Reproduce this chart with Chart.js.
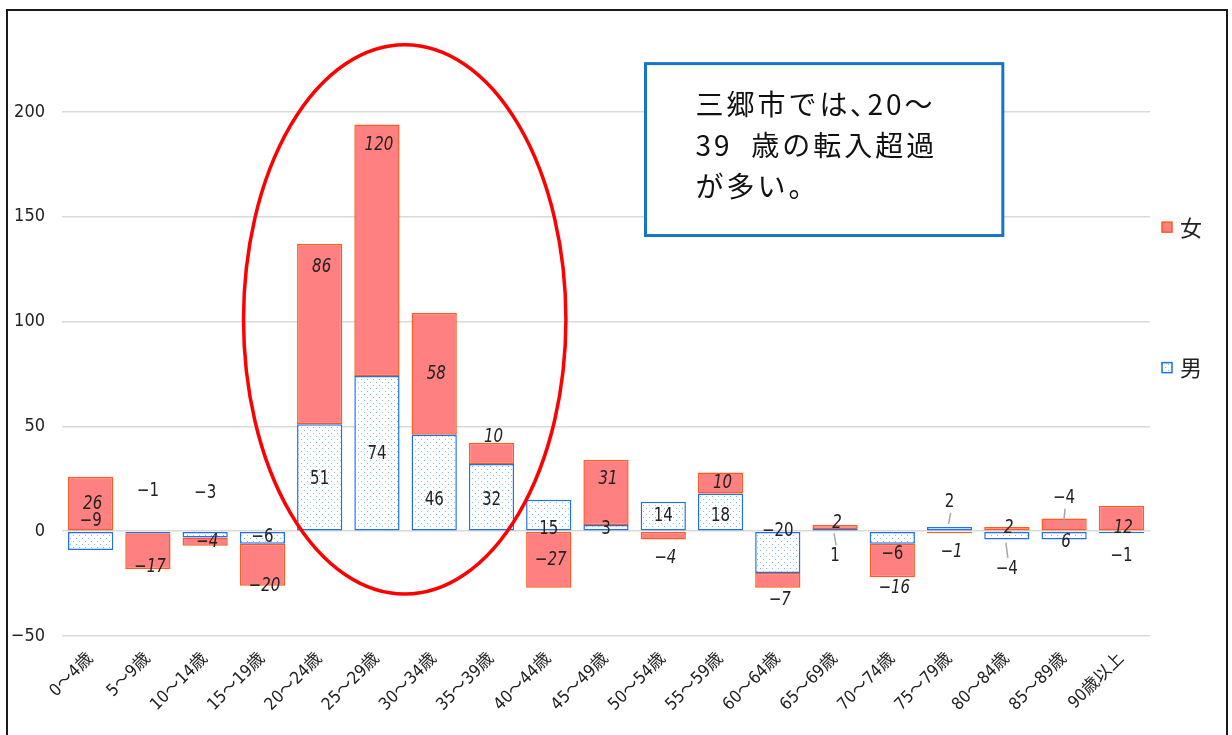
<!DOCTYPE html>
<html lang="ja">
<head>
    <meta charset="UTF-8">
    <title>三郷市 年齢別 転入超過数</title>
    <script src="https://cdn.jsdelivr.net/npm/chart.js"></script>
    <style>
        body {
            margin: 0;
            background: #ffffff;
        }
        #wrap {
            width: 1232px;
            height: 735px;
        }
    </style>
</head>
<body>
    <div id="wrap"><canvas id="chart" width="1232" height="735"></canvas></div>

    <script>
        // age groups (x axis)
        var ageGroups = ['0～4歳', '5～9歳', '10～14歳', '15～19歳', '20～24歳', '25～29歳', '30～34歳',
            '35～39歳', '40～44歳', '45～49歳', '50～54歳', '55～59歳', '60～64歳', '65～69歳',
            '70～74歳', '75～79歳', '80～84歳', '85～89歳', '90歳以上'];

        // net in-migration by sex
        var male = [-9, -1, -3, -6, 51, 74, 46, 32, 15, 3, 14, 18, -20, 1, -6, 2, -4, -4, -1];
        var female = [26, -17, -4, -20, 86, 120, 58, 10, -27, 31, -4, 10, -7, 2, -16, -1, 2, 6, 12];

        // y axis ticks
        var yTicks = [-50, 0, 50, 100, 150, 200];

        // where each data label sits (in axis units)
        var maleLabelAt = [5, 19, 18, -3, 25, 37, 15, 15, 1, 1, 7, 7, 0, -12, -11, 14, -18, 16, -12];
        var femaleLabelAt = [13, -17, -5, -26, 126, 184, 75, 45, -14, 25, -13, 23, -33, 4, -27, -10, 1.5, -5, 1.5];
        var leaderIdx = [13, 15, 16, 17];

        var noteLines = ['三郷市では､20～', '39  歳の転入超過', 'が多い。'];

        var numFont = "'DejaVu Sans Condensed', 'Liberation Sans Narrow', 'Noto Sans CJK JP', sans-serif";
        var jpFont = "'Noto Sans CJK JP', sans-serif";

        // dotted fill for 男
        function dotPattern() {
            var c = document.createElement('canvas');
            c.width = 6;
            c.height = 6;
            var g = c.getContext('2d');
            g.fillStyle = '#ffffff';
            g.fillRect(0, 0, 6, 6);
            g.fillStyle = '#74c2f2';
            g.fillRect(1, 1, 1, 1);
            g.fillRect(4, 4, 1, 1);
            return g.createPattern(c, 'repeat');
        }

        var ctx = document.getElementById('chart').getContext('2d');
        var malePattern = dotPattern();

        function fmt(v) {
            return String(v).replace('-', '−');
        }

        // narrow text, like the original's condensed font
        function narrowText(c, t, x, y) {
            c.save();
            c.translate(x, y);
            c.scale(0.88, 1);
            c.fillText(t, 0, 0);
            c.restore();
        }

        // value labels, ellipse, note box, legend and frame
        var extras = {
            id: 'extras',
            afterDatasetsDraw: function (chart) {
                var c = chart.ctx;
                var xs = chart.scales.x, ys = chart.scales.y;
                var mMeta = chart.getDatasetMeta(0);

                // leader lines
                c.save();
                c.strokeStyle = '#a6a6a6';
                c.lineWidth = 1.5;
                leaderIdx.forEach(function (i) {
                    var x = xs.getPixelForValue(i);
                    var ly = ys.getPixelForValue(maleLabelAt[i]);
                    var bar = mMeta.data[i];
                    var up = ly < bar.y;
                    var edge = up ? Math.min(bar.y, bar.base) : Math.max(bar.y, bar.base);
                    c.beginPath();
                    c.moveTo(x + 1, up ? ly + 11 : ly - 11);
                    c.lineTo(x - 1, up ? edge - 3 : edge + 3);
                    c.stroke();
                });
                c.restore();

                // data labels
                c.save();
                c.fillStyle = '#222222';
                c.textAlign = 'center';
                c.textBaseline = 'middle';
                for (var i = 0; i < ageGroups.length; i++) {
                    var x = xs.getPixelForValue(i);
                    c.font = "19px " + numFont;
                    narrowText(c, fmt(male[i]), x, ys.getPixelForValue(maleLabelAt[i]));
                    c.font = "italic 19px " + numFont;
                    narrowText(c, fmt(female[i]), x + 2, ys.getPixelForValue(femaleLabelAt[i]));
                }
                c.restore();

                // red ellipse around 20-39
                var ex1 = xs.getPixelForValue(2.67), ex2 = xs.getPixelForValue(8.3);
                var ey1 = ys.getPixelForValue(232), ey2 = ys.getPixelForValue(-30);
                c.save();
                c.strokeStyle = '#ff0000';
                c.lineWidth = 3.5;
                c.beginPath();
                c.ellipse((ex1 + ex2) / 2, (ey1 + ey2) / 2, (ex2 - ex1) / 2, (ey2 - ey1) / 2, 0, 0, Math.PI * 2);
                c.stroke();
                c.restore();

                // note box
                var bx1 = xs.getPixelForValue(9.69), bx2 = xs.getPixelForValue(15.93);
                var by1 = ys.getPixelForValue(223), by2 = ys.getPixelForValue(141);
                c.save();
                c.fillStyle = '#ffffff';
                c.fillRect(bx1, by1, bx2 - bx1, by2 - by1);
                c.strokeStyle = '#1874c8';
                c.lineWidth = 3;
                c.strokeRect(bx1, by1, bx2 - bx1, by2 - by1);
                c.fillStyle = '#111111';
                c.font = "28px " + jpFont;
                c.letterSpacing = '3px';
                c.textAlign = 'left';
                c.textBaseline = 'middle';
                noteLines.forEach(function (t, k) {
                    c.fillText(t, bx1 + 50, by1 + 41 + k * 41);
                });
                c.restore();
            },
            afterDraw: function (chart) {
                var c = chart.ctx;
                var ys = chart.scales.y;
                var lx = chart.chartArea.right + 12;

                // legend (女 first, as in the stacked order)
                var items = [
                    { label: '女', fill: '#ff8080', stroke: '#ff5a1f', at: 145 },
                    { label: '男', fill: malePattern, stroke: '#1f6ff0', at: 78 }
                ];
                c.save();
                items.forEach(function (it) {
                    var y = ys.getPixelForValue(it.at);
                    c.fillStyle = it.fill;
                    c.fillRect(lx, y - 5, 10, 10);
                    c.strokeStyle = it.stroke;
                    c.lineWidth = 1.5;
                    c.strokeRect(lx, y - 5, 10, 10);
                    c.fillStyle = '#222222';
                    c.font = "22px " + jpFont;
                    c.textAlign = 'left';
                    c.textBaseline = 'middle';
                    c.fillText(it.label, lx + 18, y);
                });

                // outer frame
                c.strokeStyle = '#1a1a1a';
                c.lineWidth = 2;
                c.strokeRect(7, 10, 1220, 800);
                c.restore();
            }
        };

        var chart = new Chart(ctx, {
            type: 'bar',
            data: {
                labels: ageGroups,
                datasets: [{
                    label: '男',
                    data: male,
                    backgroundColor: malePattern,
                    borderColor: '#1f6ff0',
                    borderWidth: 1.5,
                    borderSkipped: false
                }, {
                    label: '女',
                    data: female,
                    backgroundColor: '#ff8080',
                    borderColor: '#ff5a1f',
                    borderWidth: 1.5,
                    borderSkipped: false
                }]
            },
            options: {
                responsive: false,
                animation: false,
                devicePixelRatio: 1,
                layout: {
                    padding: { top: 7, right: 82, left: 0, bottom: 0 }
                },
                plugins: {
                    legend: { display: false },
                    tooltip: { enabled: false }
                },
                datasets: {
                    bar: { barPercentage: 0.79, categoryPercentage: 1 }
                },
                scales: {
                    x: {
                        stacked: true,
                        grid: { display: false },
                        border: { display: false },
                        ticks: {
                            minRotation: 45,
                            maxRotation: 45,
                            padding: 5,
                            color: '#222222',
                            font: { family: numFont, size: 17 }
                        },
                        afterFit: function (s) { s.height = 99; }
                    },
                    y: {
                        stacked: true,
                        min: -50,
                        max: 250,
                        afterBuildTicks: function (s) {
                            s.ticks = yTicks.concat([250]).map(function (v) { return { value: v }; });
                        },
                        grid: {
                            drawTicks: false,
                            lineWidth: 1.5,
                            color: function (c) {
                                return c.tick && c.tick.value > 200 ? 'rgba(0,0,0,0)' : '#d9d9d9';
                            }
                        },
                        border: { display: false },
                        ticks: {
                            padding: 17,
                            color: '#222222',
                            font: { family: numFont, size: 18 },
                            callback: function (v) {
                                return v > 200 ? '' : fmt(v);
                            }
                        },
                        afterFit: function (s) {
                            s.width = 62;
                            s.paddingTop = 0;
                            s.paddingBottom = 0;
                        }
                    }
                }
            },
            plugins: [extras]
        });
    </script>
</body>
</html>
